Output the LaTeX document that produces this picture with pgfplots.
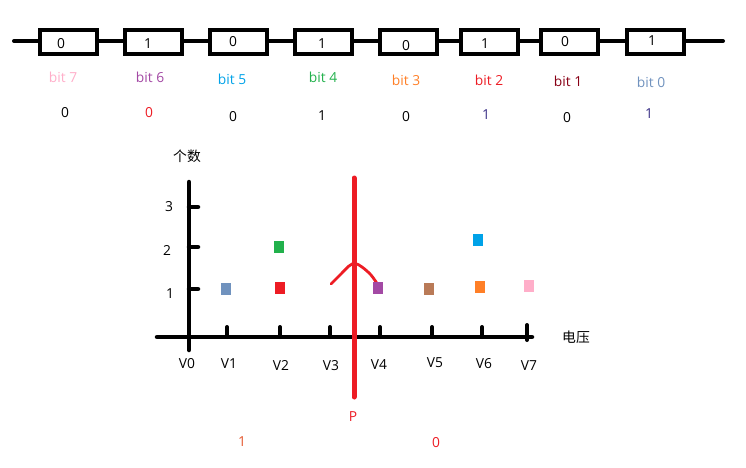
\documentclass[border=0pt]{standalone}
\usepackage{fontspec}
\setmainfont{Open Sans}
\newfontfamily\cjk{Noto Sans CJK SC}
\usepackage{pgfplots}
\pgfplotsset{compat=1.18}

% MS Paint palette
\definecolor{ppink}{HTML}{FFAEC9}
\definecolor{ppurple}{HTML}{A349A4}
\definecolor{pblue}{HTML}{00A2E8}
\definecolor{pgreen}{HTML}{22B14C}
\definecolor{porange}{HTML}{FF7F27}
\definecolor{pred}{HTML}{ED1C24}
\definecolor{pmaroon}{HTML}{880015}
\definecolor{pgrey}{HTML}{7092BE}
\definecolor{pbrown}{HTML}{B97A57}
\definecolor{pindigo}{HTML}{3A2F86}
\definecolor{pbotone}{HTML}{E4572E}

\begin{document}
\begin{tikzpicture}[font=\fontsize{13.8}{16}\selectfont]
\begin{axis}[
    width=746pt, height=467pt, scale only axis,
    xmin=0, xmax=746, ymin=0, ymax=467,
    y dir=reverse,
    hide axis, clip=false,
  ]
  \addplot[draw=none] coordinates {(0,0) (746,467)};

  % wire with the eight cells
  \addplot[black, line width=4pt, line cap=round] coordinates {(14,41) (723,41)};
  \pgfplotsinvokeforeach{68.5,153.5,238.5,323.5,408.5,489.5,569.5,655.5}{
    \addplot[black, fill=white, line width=4.5pt] coordinates
      {(#1-28.5,30) (#1+28.5,30) (#1+28.5,54) (#1-28.5,54) (#1-28.5,30)} -- cycle;
  }

  % lower diagram: axes
  \addplot[black, line width=4.5pt, line cap=round] coordinates {(189,182) (189,350)};
  \addplot[black, line width=4.5pt, line cap=round] coordinates {(157,337) (532,337)};
  % y ticks
  \addplot[black, line width=4.5pt, line cap=round] coordinates {(189,207) (198,207)};
  \addplot[black, line width=4.5pt, line cap=round] coordinates {(189,247) (198,247)};
  \addplot[black, line width=4.5pt, line cap=round] coordinates {(189,289) (198,289)};
  % x ticks
  \pgfplotsinvokeforeach{227,280,330,380,432,482}{
    \addplot[black, line width=4pt, line cap=round] coordinates {(#1,327) (#1,337)};
  }
  \addplot[black, line width=4pt, line cap=round] coordinates {(527,325) (527,340)};

  % counts per voltage
  \addplot[only marks, mark=square*, mark size=5.5pt, mark options={xscale=0.8, draw=pgrey, fill=pgrey}] coordinates {(226,289)};
  \addplot[only marks, mark=square*, mark size=5.5pt, mark options={xscale=0.8, draw=pred, fill=pred}] coordinates {(280,288)};
  \addplot[only marks, mark=square*, mark size=5.5pt, mark options={xscale=0.8, draw=pgreen, fill=pgreen}] coordinates {(279,247)};
  \addplot[only marks, mark=square*, mark size=5.5pt, mark options={xscale=0.8, draw=ppurple, fill=ppurple}] coordinates {(378,288)};
  \addplot[only marks, mark=square*, mark size=5.5pt, mark options={xscale=0.8, draw=pbrown, fill=pbrown}] coordinates {(429,289)};
  \addplot[only marks, mark=square*, mark size=5.5pt, mark options={xscale=0.8, draw=pblue, fill=pblue}] coordinates {(478,240)};
  \addplot[only marks, mark=square*, mark size=5.5pt, mark options={xscale=0.8, draw=porange, fill=porange}] coordinates {(480,287)};
  \addplot[only marks, mark=square*, mark size=5.5pt, mark options={xscale=0.8, draw=ppink, fill=ppink}] coordinates {(529,286)};

  % threshold P
  \addplot[pred, line width=5pt, line cap=round] coordinates {(354,178) (354,397)};
  \addplot[pred, line width=2.8pt, line cap=round, smooth, tension=0.6] coordinates
    {(331,284) (341,274) (349,266) (355,263.5) (362,267) (371,275) (378,285)};

  % texts
  \node at (axis cs:61,44) {0};   \node at (axis cs:148,44) {1};
  \node at (axis cs:233,42) {0};  \node at (axis cs:322,44) {1};
  \node at (axis cs:406,46) {0};  \node at (axis cs:485,44) {1};
  \node at (axis cs:565,42) {0};  \node at (axis cs:652,41) {1};

  \node[text=ppink]   at (axis cs:63,77)  {bit 7};
  \node[text=ppurple] at (axis cs:150,77) {bit 6};
  \node[text=pblue]   at (axis cs:232,79) {bit 5};
  \node[text=pgreen]  at (axis cs:323,77) {bit 4};
  \node[text=porange] at (axis cs:406,80) {bit 3};
  \node[text=pred]    at (axis cs:489,80) {bit 2};
  \node[text=pmaroon] at (axis cs:568,81) {bit 1};
  \node[text=pgrey]   at (axis cs:651,82) {bit 0};

  \node at (axis cs:65,113) {0};
  \node[text=pred] at (axis cs:149,113) {0};
  \node at (axis cs:233,117) {0};
  \node at (axis cs:322,116) {1};
  \node at (axis cs:406,117) {0};
  \node[text=pindigo] at (axis cs:486,115) {1};
  \node at (axis cs:567,118) {0};
  \node[text=pindigo] at (axis cs:649,114) {1};

  \node at (axis cs:187,156) {\cjk 个数};
  \node at (axis cs:169,207) {3};
  \node at (axis cs:167,250) {2};
  \node at (axis cs:170,294) {1};
  \node at (axis cs:576,337) {\cjk 电压};

  \node at (axis cs:187,364) {V0};
  \node at (axis cs:229,364) {V1};
  \node at (axis cs:281,365) {V2};
  \node at (axis cs:331,366) {V3};
  \node at (axis cs:379,365) {V4};
  \node at (axis cs:435,363) {V5};
  \node at (axis cs:484,364) {V6};
  \node at (axis cs:529,366) {V7};

  \node[text=pred] at (axis cs:353,417) {P};
  \node[text=pbotone] at (axis cs:242,442) {1};
  \node[text=pred] at (axis cs:436,443) {0};
\end{axis}
\end{tikzpicture}
\end{document}
